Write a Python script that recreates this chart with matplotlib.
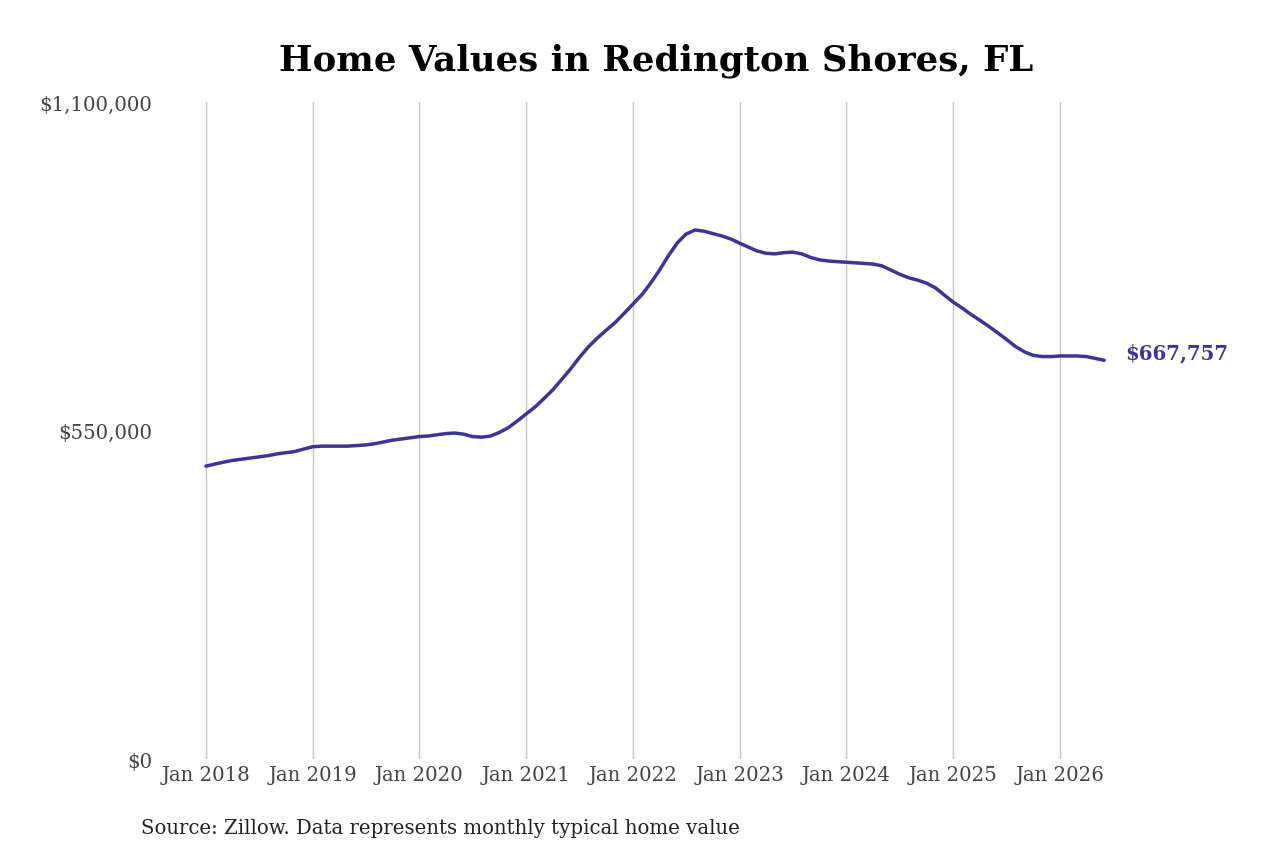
import numpy as np
import pandas as pd
import matplotlib
matplotlib.use('Agg')
import matplotlib.pyplot as plt
from matplotlib.ticker import FuncFormatter

# typical home value, monthly, Jan 2018 - Jun 2026
values = [
    490500, 494000, 497000, 500000, 502000, 504000, 506000, 508000, 511000, 513000, 515000, 519000,
    523000, 524000, 524000, 524000, 524000, 525000, 526000, 528000, 531000, 534000, 536000, 538000,
    540000, 541000, 543000, 545000, 546000, 544000, 540000, 539000, 541000, 547000, 555000, 566000,
    578000, 590000, 603000, 618000, 635000, 653000, 672000, 690000, 705000, 718000, 731000, 746000,
    762000, 778000, 796000, 818000, 842000, 864000, 879000, 886000, 884000, 880000, 876000, 871000,
    864000, 857000, 851000, 847000, 846000, 848000, 849000, 846000, 840000, 836000, 834000, 833000,
    832000, 831000, 830000, 829000, 826000, 819000, 812000, 806000, 802000, 797000, 789000, 777000,
    765000, 755000, 745000, 735000, 725000, 714000, 703000, 691000, 682000, 676000, 674000, 674000,
    675000, 675000, 675000, 674000, 671000, 667757,
]
dates = pd.date_range('2018-01-01', periods=len(values), freq='MS')
y_ticks = [0, 550000, 1100000]
x_years = list(range(2018, 2027))

LINE = '#3d3493'
FONT = 'DejaVu Serif'

fig = plt.figure(figsize=(12.8, 8.53), dpi=100)
ax = fig.add_axes([0.125, 0.109, 0.742, 0.770])

ax.plot(dates, values, color=LINE, lw=2.5, solid_capstyle='round')

# x limits so that Jan 2018 sits a little inside the left edge
ax.set_xlim(pd.Timestamp('2017-07-28'), pd.Timestamp('2026-06-20'))
ax.set_ylim(0, 1100000)

ax.set_xticks([pd.Timestamp(f'{y}-01-01') for y in x_years])
ax.set_xticklabels([f'Jan {y}' for y in x_years])
ax.set_yticks(y_ticks)
ax.yaxis.set_major_formatter(FuncFormatter(lambda v, p: f'${v:,.0f}'))

ax.grid(axis='x', color='#c4c4c4', lw=1)
ax.grid(axis='y', visible=False)
for s in ax.spines.values():
    s.set_visible(False)
ax.tick_params(length=0, colors='#444444', labelsize=14.2)
ax.tick_params(axis='x', pad=4)
ax.tick_params(axis='y', pad=5.5)
for lab in ax.get_xticklabels() + ax.get_yticklabels():
    lab.set_family(FONT)

# end label
ax.annotate(f'${values[-1]:,}', xy=(dates[-1], values[-1]), xytext=(15.5, 5.5),
            textcoords='offset points', color=LINE, fontsize=14.2, fontweight='bold',
            family=FONT, va='center', ha='left', annotation_clip=False)

fig.text(0.5125, 0.929, 'Home Values in Redington Shores, FL', ha='center', va='center',
         fontsize=25.6, fontweight='bold', family=FONT)
fig.text(0.110, 0.029, 'Source: Zillow. Data represents monthly typical home value',
         ha='left', va='center', fontsize=14.2, family=FONT, color='#222222')

fig.savefig('out.png', dpi=100)
